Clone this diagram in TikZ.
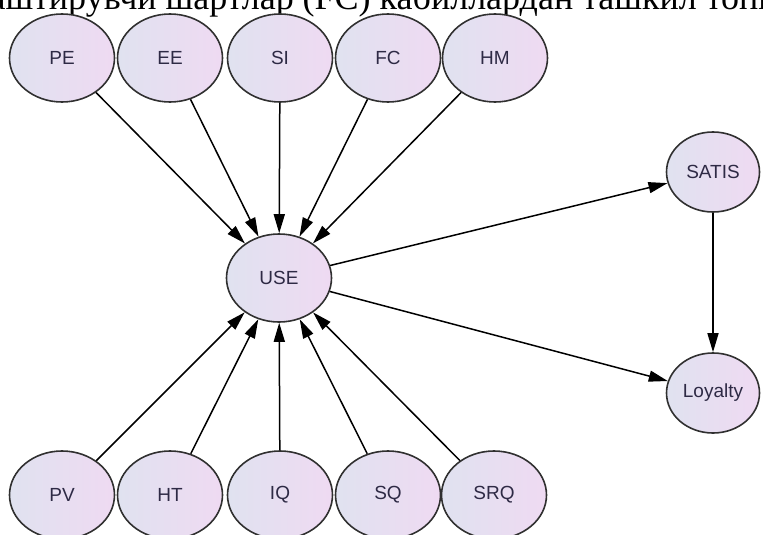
\documentclass[tikz,border=0pt]{standalone}
\usepackage{fontspec}
\setmainfont{Liberation Serif}
\newfontfamily\arialfont{Liberation Sans}
\usetikzlibrary{arrows.meta,shapes.geometric}

\definecolor{ce0e2f0}{RGB}{224,226,240}
\definecolor{cefdaf0}{RGB}{239,218,242}
\definecolor{c2e2a45}{RGB}{46,42,69}
\definecolor{c303030}{RGB}{48,48,48}

\begin{document}
\begin{tikzpicture}[y=1pt, x=1pt, yscale=-1,
  latent/.style={ellipse, draw=c303030, line width=1.6pt, left color=ce0e2f0,
    right color=cefdaf0, minimum width=105pt, minimum height=88pt, inner sep=0pt,
    font=\arialfont\fontsize{19}{19}\selectfont, text=c2e2a45},
  small/.style={minimum width=93pt, minimum height=80pt},
  path/.style={draw=black, line width=1.5pt, -{Triangle[length=19pt,width=11pt]}}]
  \useasboundingbox (0,0) rectangle (763,535);
  \clip (0,0) rectangle (763,535);
  \node[anchor=base west, font=\fontsize{36}{36}\selectfont] (header) at (-14,10)
    {аштирувчи шартлар (FC) кабиллардан ташкил топга};
  \node[latent] (PE) at (62,58) {PE};
  \node[latent] (EE) at (170,58) {EE};
  \node[latent] (SI) at (280,58) {SI};
  \node[latent] (FC) at (388,58) {FC};
  \node[latent] (HM) at (495,58) {HM};
  \node[latent] (USE) at (279,278) {USE};
  \node[latent] (PV) at (62,495) {PV};
  \node[latent] (HT) at (170,495) {HT};
  \node[latent] (IQ) at (280,495) {IQ};
  \node[latent] (SQ) at (388,495) {SQ};
  \node[latent] (SRQ) at (494,495) {SRQ};
  \node[latent,small] (SATIS) at (713,172) {SATIS};
  \node[latent,small] (Loyalty) at (713,393) {Loyalty};
  \foreach \s in {PE,EE,SI,FC,HM,PV,HT,IQ,SQ,SRQ}
    \path[path] (\s) -- (USE);
  \path[path] (USE) -- (SATIS);
  \path[path] (USE) -- (Loyalty);
  \path[path] (SATIS) -- (Loyalty);
\end{tikzpicture}
\end{document}
